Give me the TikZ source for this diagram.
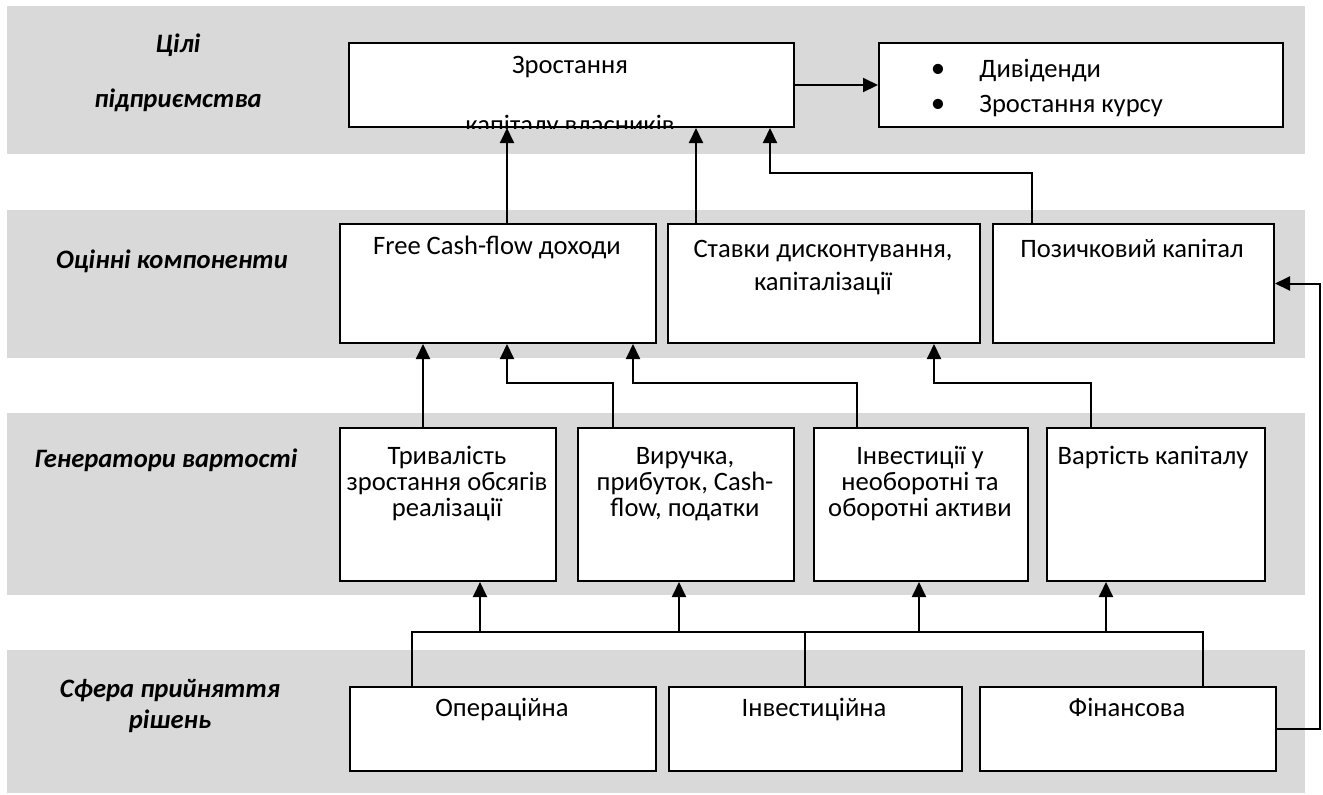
\documentclass[tikz,border=0pt]{standalone}
\usepackage{fontspec}
\setmainfont{Carlito}
\usetikzlibrary{arrows.meta, positioning, calc}

\definecolor{bandgray}{HTML}{D9D9D9}
\def\unitpx{0.5pt}
\newcommand{\boxfont}{\fontsize{13.3pt}{16pt}\selectfont}

\tikzset{
  band/.style={fill=bandgray, draw=none},
  blk/.style 2 args={draw, line width=1pt, fill=white, inner sep=0pt, anchor=north west,
    minimum width=#1*\unitpx, minimum height=#2*\unitpx},
  txt/.style={anchor=base, inner sep=0pt},
  lvl/.style={anchor=base, inner sep=0pt, font=\boxfont\bfseries\itshape},
  arr/.style={line width=1pt, -{Triangle[length=7.5pt, width=7pt]}},
  bus/.style={line width=0.8pt},
}

\begin{document}
\begin{tikzpicture}[x=0.5pt, y=-0.5pt, font=\boxfont]

\useasboundingbox (0,0) rectangle (1323,794);

% --- 1. BANDS ---
\fill[band] (7,6) rectangle (1305,154);
\fill[band] (7,210) rectangle (1305,358);
\fill[band] (7,413) rectangle (1305,595);
\fill[band] (7,650) rectangle (1305,793);

% band titles
\node[lvl] (lvl-goal1) at (178,52) {Цілі};
\node[lvl] (lvl-goal2) at (178,107) {підприємства};
\node[lvl] (lvl-eval) at (172,268) {Оцінні компоненти};
\node[lvl] (lvl-gen) at (166,467) {Генератори вартості};
\node[lvl] (lvl-dec1) at (170,697) {Сфера прийняття};
\node[lvl] (lvl-dec2) at (170,728) {рішень};

% --- 2. BOXES ---
\node[blk={445}{84}] (goal) at (348,42) {};
\node[blk={404}{84}] (divs) at (878,42) {};

\node[blk={316}{119}] (fcf) at (339,223) {};
\node[blk={312}{119}] (rates) at (667,223) {};
\node[blk={281}{119}] (loan) at (992,223) {};

\node[blk={216}{153}] (dur) at (339,427) {};
\node[blk={216}{153}] (rev) at (577,427) {};
\node[blk={214}{153}] (inv) at (813,427) {};
\node[blk={218}{153}] (cost) at (1046,427) {};

\node[blk={306}{84}] (oper) at (349,686) {};
\node[blk={293}{84}] (invd) at (668,686) {};
\node[blk={296}{84}] (fin) at (979,686) {};

% --- 3. BOX TEXTS ---
\node[txt] (goal-1) at (570,73) {Зростання};
\begin{scope}
  \clip (goal.north west) rectangle (goal.south east);
  \node[txt] (goal-2) at (570,133) {капіталу власників};
\end{scope}

\node[txt] (divs-b1) at (938,77) {\Large\textbullet};
\node[txt] (divs-b2) at (938,112) {\Large\textbullet};
\node[txt, anchor=base west] (divs-1) at (979,77) {Дивіденди};
\node[txt, anchor=base west] (divs-2) at (979,112) {Зростання курсу};

\node[txt] (fcf-1) at (497,254) {Free Cash-flow доходи};
\node[txt] (rates-1) at (823,257) {Ставки дисконтування,};
\node[txt] (rates-2) at (823,290) {капіталізації};
\node[txt] (loan-1) at (1132,257) {Позичковий капітал};

\foreach \ty/\tline [count=\i] in {464/Тривалість, 490/{зростання обсягів}, 516/реалізації}
  \node[txt] (dur-\i) at (447,\ty) {\tline};
\foreach \ty/\tline [count=\i] in {464/{Виручка,}, 490/{прибуток, Cash-}, 516/{flow, податки}}
  \node[txt] (rev-\i) at (685,\ty) {\tline};
\foreach \ty/\tline [count=\i] in {464/{Інвестиції у}, 490/{необоротні та}, 516/{оборотні активи}}
  \node[txt] (inv-\i) at (920,\ty) {\tline};
\node[txt] (cost-1) at (1153,464) {Вартість капіталу};

\node[txt] (oper-1) at (502,716) {Операційна};
\node[txt] (invd-1) at (814,716) {Інвестиційна};
\node[txt] (fin-1) at (1127,716) {Фінансова};

% --- 4. CONNECTORS ---
\draw[arr] (goal.east) -- (divs.west);
\draw[arr] (507,0 |- fcf.north) -- (507,0 |- goal.south);
\draw[arr] (696,0 |- rates.north) -- (696,0 |- goal.south);
\draw[arr] (1032,0 |- loan.north) -- (1032,173) -- (770,173) -- (770,0 |- goal.south);

\draw[arr] (423,0 |- dur.north) -- (423,0 |- fcf.south);
\draw[arr] (613,0 |- rev.north) -- (613,383) -- (507,383) -- (507,0 |- fcf.south);
\draw[arr] (857,0 |- inv.north) -- (857,383) -- (633,383) -- (633,0 |- fcf.south);
\draw[arr] (1091,0 |- cost.north) -- (1091,383) -- (934,383) -- (934,0 |- rates.south);

% decision bus
\draw[bus] (412,0 |- oper.north) -- (412,632) -- (1203,632) -- (1203,0 |- fin.north);
\draw[bus] (805,632) -- (805,0 |- invd.north);
\foreach \bx/\bn in {480/dur, 679/rev, 919/inv, 1106/cost}
  \draw[arr] (\bx,632) -- (\bx,0 |- \bn.south);

\draw[arr] (fin.east) -- (1320,0 |- fin.east) -- (1320,0 |- loan.east) -- (loan.east);

\end{tikzpicture}
\end{document}
